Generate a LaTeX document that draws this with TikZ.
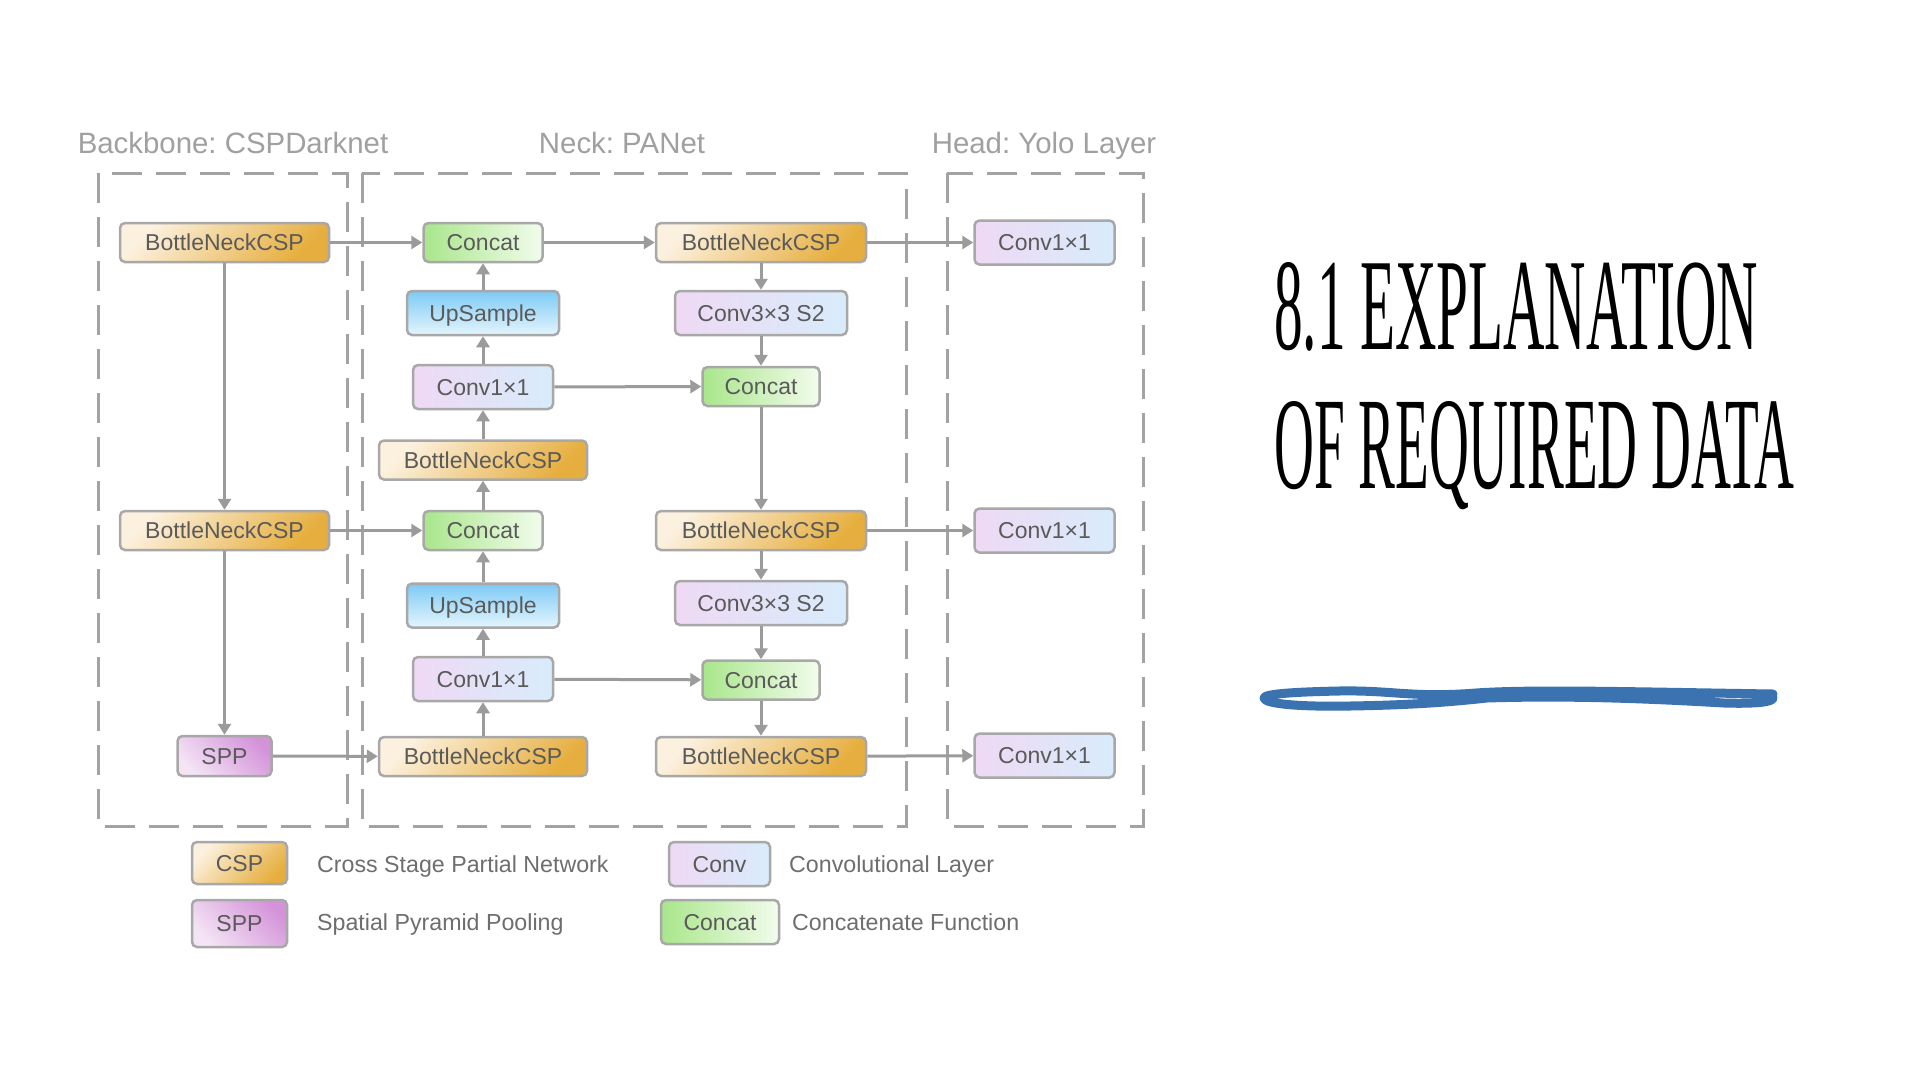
\documentclass[tikz,border=0pt]{standalone}
\usepackage{fontspec}
\usepackage{graphicx}
\setmainfont{Liberation Sans}
\newfontfamily\titlefont{Liberation Serif}
\usetikzlibrary{arrows.meta}
\frenchspacing
\definecolor{dashgray}{HTML}{A3A3A3}
\definecolor{linegray}{HTML}{9B9B9B}
\definecolor{bordergray}{HTML}{A8A8A8}
\definecolor{txtgray}{HTML}{5A5A5A}
\definecolor{hdrgray}{HTML}{A0A0A0}
\definecolor{leggray}{HTML}{6E6E6E}
\definecolor{cspA}{HTML}{FCF1DF}
\definecolor{cspB}{HTML}{E6AE3E}
\definecolor{catA}{HTML}{A9E68B}
\definecolor{catB}{HTML}{F2FCEC}
\definecolor{upA}{HTML}{7DCAF5}
\definecolor{upB}{HTML}{E4F5FD}
\definecolor{convA}{HTML}{EFD9F4}
\definecolor{convB}{HTML}{D8ECFB}
\definecolor{sppA}{HTML}{D493D9}
\definecolor{sppB}{HTML}{F4E4F5}
\definecolor{scribble}{HTML}{3B72B0}
\tikzset{
  box/.style={draw=bordergray, line width=2.5pt, rounded corners=5pt, inner sep=0pt,
    text=txtgray, font=\fontsize{23}{27}\selectfont, text height=16.5pt, text depth=0pt},
  csp/.style={box, minimum width=209pt, minimum height=39pt, top color=cspA, bottom color=cspB, shading angle=45},
  cat/.style={box, minimum width=119pt, minimum height=39pt, left color=catA, right color=catB},
  ups/.style={box, minimum width=152pt, minimum height=44pt, top color=upA, bottom color=upB},
  conv/.style={box, minimum width=140pt, minimum height=44pt, left color=convA, right color=convB},
  convb/.style={conv, minimum width=172pt},
  spp/.style={box, minimum width=94pt, minimum height=40pt, top color=sppA, bottom color=sppB, shading angle=-45},
  dbox/.style={draw=dashgray, line width=3pt, dash pattern=on 30pt off 14pt},
  conn/.style={draw=linegray, line width=3pt, -{Triangle[length=11pt,width=13pt]}},
  hdr/.style={anchor=base, inner sep=0pt, text=hdrgray, font=\fontsize{29.4}{34}\selectfont},
  leg/.style={anchor=base west, inner sep=0pt, text=leggray, font=\fontsize{23.2}{27}\selectfont},
}
\begin{document}
\begin{tikzpicture}[x=1pt,y=-1pt]
\useasboundingbox (0,0) rectangle (1919,1079);
\fill[white] (0,0) rectangle (1919,1079);

% group frames
\draw[dbox] (98,173) rectangle (347,826);
\draw[dbox] (362,173) rectangle (906,826);
\draw[dbox] (947,173) rectangle (1143,826);

% headers
\node[hdr] (hb) at (233,153) {Backbone: CSPDarknet};
\node[hdr] (hn) at (622,153) {Neck: PANet};
\node[hdr] (hh) at (1044,153) {Head: Yolo Layer};

% backbone
\node[csp] (bb1) at (224.5,242.5) {BottleNeckCSP};
\node[csp] (bb2) at (224.5,530.5) {BottleNeckCSP};
\node[spp] (spp) at (224.5,756) {SPP};

% neck left column
\node[cat]  (c1)  at (483,242.5) {Concat};
\node[ups]  (u1)  at (483,313)   {UpSample};
\node[conv] (k1)  at (483,387)   {Conv1×1};
\node[csp, minimum width=208pt] (nb1) at (483,460) {BottleNeckCSP};
\node[cat]  (c2)  at (483,530.5) {Concat};
\node[ups]  (u2)  at (483,605.5) {UpSample};
\node[conv] (k2)  at (483,679)   {Conv1×1};
\node[csp, minimum width=208pt] (nb2) at (483,756.5) {BottleNeckCSP};

% neck right column
\node[csp, minimum width=210pt] (rb1) at (761,242.5) {BottleNeckCSP};
\node[convb] (s1) at (761,313) {Conv3×3 S2};
\node[cat, minimum width=117pt] (rc1) at (761,386.5) {Concat};
\node[csp, minimum width=210pt] (rb2) at (761,530.5) {BottleNeckCSP};
\node[convb] (s2) at (761,603) {Conv3×3 S2};
\node[cat, minimum width=117pt] (rc2) at (761,680) {Concat};
\node[csp, minimum width=210pt] (rb3) at (761,756.5) {BottleNeckCSP};

% head
\node[conv] (h1) at (1044.5,242.5) {Conv1×1};
\node[conv] (h2) at (1044.5,530.5) {Conv1×1};
\node[conv] (h3) at (1044.5,755.5) {Conv1×1};

% connectors
\draw[conn] (bb1) -- (bb2);
\draw[conn] (bb2) -- (spp);
\draw[conn] (bb1) -- (c1);
\draw[conn] (bb2) -- (c2);
\draw[conn] (spp) -- (nb2);
\draw[conn] (nb2) -- (k2);
\draw[conn] (k2) -- (u2);
\draw[conn] (u2) -- (c2);
\draw[conn] (c2) -- (nb1);
\draw[conn] (nb1) -- (k1);
\draw[conn] (k1) -- (u1);
\draw[conn] (u1) -- (c1);
\draw[conn] (c1) -- (rb1);
\draw[conn] (rb1) -- (s1);
\draw[conn] (s1) -- (rc1);
\draw[conn] (rc1) -- (rb2);
\draw[conn] (rb2) -- (s2);
\draw[conn] (s2) -- (rc2);
\draw[conn] (rc2) -- (rb3);
\draw[conn] (k1) -- (rc1);
\draw[conn] (k2) -- (rc2);
\draw[conn] (rb1) -- (h1);
\draw[conn] (rb2) -- (h2);
\draw[conn] (rb3) -- (h3);

% legend
\node[csp, minimum width=95pt, minimum height=42pt] (lcsp) at (239.5,863) {CSP};
\node[spp, minimum width=95pt, minimum height=47pt] (lspp) at (239.5,923.5) {SPP};
\node[conv, minimum width=101pt, minimum height=44pt] (lconv) at (719.5,864) {Conv};
\node[cat, minimum width=118pt, minimum height=44pt] (lcat) at (720,922) {Concat};
\node[leg] (tcsp) at (317,872) {Cross Stage Partial Network};
\node[leg] (tspp) at (317,930) {Spatial Pyramid Pooling};
\node[leg] (tconv) at (789,872) {Convolutional Layer};
\node[leg] (tcat) at (792,930) {Concatenate Function};

% title
\node[anchor=base west, inner sep=0pt] (t1) at (1274,349) {\resizebox{484pt}{87pt}{\titlefont 8.1 EXPLANATION}};
\node[anchor=base west, inner sep=0pt] (t2) at (1274,488) {\resizebox{520pt}{87pt}{\titlefont OF REQUIRED DATA}};

% scribble underline
\draw[scribble, line width=9pt, line cap=round, line join=round]
  (1773,694) .. controls (1640,692) and (1534,689) .. (1476,693)
  .. controls (1413,698) and (1392,690) .. (1339,691)
  .. controls (1292,692) and (1264,694) .. (1264,698)
  .. controls (1264,704) and (1302,707) .. (1350,706)
  .. controls (1413,705) and (1450,702) .. (1487,698)
  .. controls (1582,695) and (1671,700) .. (1724,703)
  .. controls (1756,704) and (1773,702) .. (1773,698);
\end{tikzpicture}
\end{document}
